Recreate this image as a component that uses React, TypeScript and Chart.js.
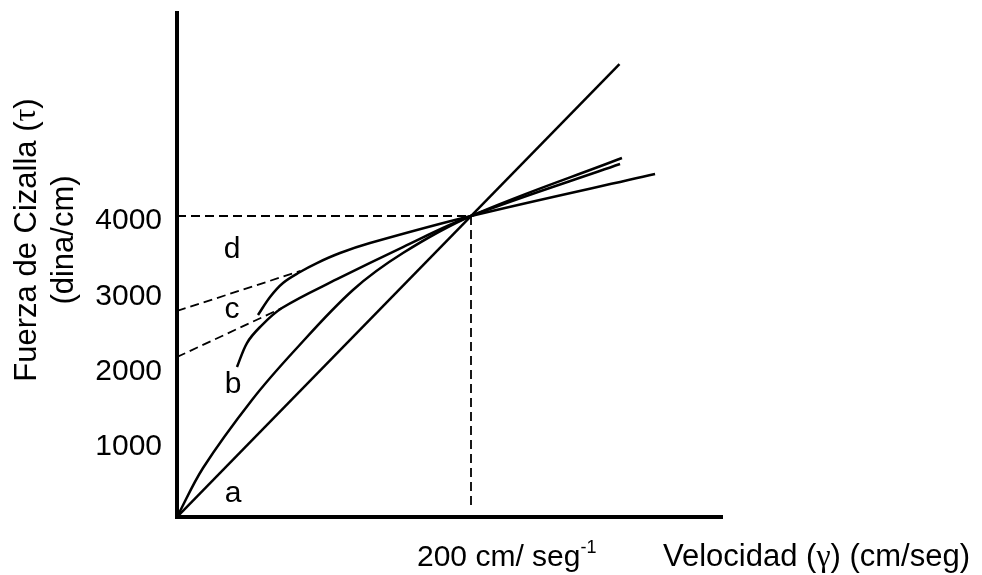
import { useEffect, useRef } from "react";
import { Chart, registerables } from "chart.js";

Chart.register(...registerables);

// ---- data (x: velocidad, y: fuerza de cizalla) ----
const X_MAX = 370.75;
const Y_MAX = 6698;
const Y_TICKS = [1000, 2000, 3000, 4000];
const X_MARK = 200;
const Y_MARK = 4000;

const lineA_x = [0, 301];
const lineA_y = [0, 6020];

const curveOrigin_x = [0, 17.7, 51.0, 80.3, 119.7, 153.7, 200, 302.7];
const curveOrigin_y = [0, 651, 1555, 2219, 3017, 3508, 4000, 4771];

const curveLow_x = [40.8, 47.6, 56.5, 71.4, 108.8, 153.7, 200, 301.4];
const curveLow_y = [1993, 2312, 2525, 2777, 3160, 3588, 4000, 4691];

const curveHigh_x = [55.1, 63.3, 72.1, 83.7, 95.2, 110.9, 131.3, 200, 325.2];
const curveHigh_y = [2684, 2924, 3110, 3256, 3375, 3508, 3641, 4000, 4558];

const dashLow_x = [0, 71.4];
const dashLow_y = [2126, 2777];
const dashHigh_x = [0, 84];
const dashHigh_y = [2738, 3270];

const refH_x = [0, X_MARK];
const refH_y = [Y_MARK, Y_MARK];
const refV_x = [X_MARK, X_MARK];
const refV_y = [Y_MARK, 130];

const LETTERS = ["d", "c", "b", "a"];
const LETTER_X = [37.4, 37.4, 38.1, 38.1];
const LETTER_Y = [3442, 2644, 1648, 199];

const FONT = "'Liberation Sans', Arial, Helvetica, sans-serif";
const SERIF = "'Liberation Serif', 'Times New Roman', serif";

const pts = (xs: number[], ys: number[]) => xs.map((x, i) => ({ x, y: ys[i] }));

type Run = { text: string; font: string; dy?: number };

function runsWidth(ctx: CanvasRenderingContext2D, runs: Run[]) {
  let w = 0;
  for (const r of runs) {
    ctx.font = r.font;
    w += ctx.measureText(r.text).width;
  }
  return w;
}
function drawRuns(ctx: CanvasRenderingContext2D, runs: Run[], x: number, y: number) {
  let cx = x;
  for (const r of runs) {
    ctx.font = r.font;
    ctx.fillText(r.text, cx, y + (r.dy || 0));
    cx += ctx.measureText(r.text).width;
  }
}

const textPlugin = {
  id: "texts",
  afterDraw(chart: any) {
    const ctx: CanvasRenderingContext2D = chart.ctx;
    const xs = chart.scales.x;
    const ys = chart.scales.y;
    ctx.save();
    ctx.fillStyle = "#000";
    ctx.textAlign = "left";
    ctx.textBaseline = "alphabetic";
    const f30 = `30px ${FONT}`;
    const f31 = `31px ${FONT}`;
    const s31 = `32px ${SERIF}`;

    // curve letters
    LETTERS.forEach((l, i) => {
      ctx.font = f30;
      ctx.textAlign = "center";
      ctx.fillText(l, xs.getPixelForValue(LETTER_X[i]), ys.getPixelForValue(LETTER_Y[i]));
    });
    ctx.textAlign = "left";

    // x mark label
    const base = 566;
    const x200 = xs.getPixelForValue(X_MARK);
    const runs200: Run[] = [
      { text: "200 cm/ seg", font: f30 },
      { text: "-1", font: `18px ${FONT}`, dy: -13 },
    ];
    drawRuns(ctx, runs200, x200 - 54, base);

    // x axis title
    const runsX: Run[] = [
      { text: "Velocidad (", font: f31 },
      { text: "γ", font: s31 },
      { text: ") (cm/seg)", font: f31 },
    ];
    drawRuns(ctx, runsX, 663, base);

    // y axis title (rotated, two lines)
    const runsY1: Run[] = [
      { text: "Fuerza de Cizalla (", font: f31 },
      { text: "τ", font: s31 },
      { text: ")", font: f31 },
    ];
    const runsY2: Run[] = [{ text: "(dina/cm)", font: f31 }];
    ctx.textBaseline = "middle";
    [
      [runsY1, 27],
      [runsY2, 64],
    ].forEach(([runs, cx]: any) => {
      ctx.save();
      ctx.translate(cx, 240);
      ctx.rotate(-Math.PI / 2);
      const w = runsWidth(ctx, runs);
      drawRuns(ctx, runs, -w / 2, 0);
      ctx.restore();
    });
    ctx.restore();
  },
};

export default function App() {
  const ref = useRef<HTMLCanvasElement>(null);
  useEffect(() => {
    const solid = (data: any[], t: number) => ({
      data,
      borderColor: "#000",
      borderWidth: 2.5,
      pointRadius: 0,
      fill: false,
      tension: t,
    });
    const dashed = (data: any[]) => ({
      data,
      borderColor: "#000",
      borderWidth: 1.8,
      borderDash: [9, 5],
      pointRadius: 0,
      fill: false,
      tension: 0,
    });
    const chart = new Chart(ref.current!, {
      type: "line",
      data: {
        datasets: [
          dashed(pts(refH_x, refH_y)),
          dashed(pts(refV_x, refV_y)),
          dashed(pts(dashLow_x, dashLow_y)),
          dashed(pts(dashHigh_x, dashHigh_y)),
          solid(pts(lineA_x, lineA_y), 0),
          solid(pts(curveOrigin_x, curveOrigin_y), 0.35),
          solid(pts(curveLow_x, curveLow_y), 0.35),
          solid(pts(curveHigh_x, curveHigh_y), 0.35),
        ] as any,
      },
      options: {
        animation: false,
        responsive: false,
        devicePixelRatio: 1,
        layout: { padding: { top: 13, right: 260, left: 0, bottom: 0 } },
        plugins: { legend: { display: false }, tooltip: { enabled: false } },
        scales: {
          x: {
            type: "linear",
            min: 0,
            max: X_MAX,
            grid: { display: false, drawTicks: false },
            border: { display: true, color: "#000", width: 4 },
            ticks: { display: false },
            afterFit: (s: any) => {
              s.height = 58;
              s.paddingLeft = 0;
              s.paddingRight = 0;
            },
          },
          y: {
            type: "linear",
            min: 0,
            max: Y_MAX,
            grid: { display: false, drawTicks: false },
            border: { display: true, color: "#000", width: 4 },
            afterBuildTicks: (s: any) => {
              s.ticks = Y_TICKS.map((v) => ({ value: v }));
            },
            ticks: {
              color: "#000",
              padding: 15,
              labelOffset: 5,
              font: { family: FONT, size: 30 },
              callback: (v: any) => String(v),
            },
            afterFit: (s: any) => {
              s.width = 177;
              s.paddingTop = 0;
              s.paddingBottom = 0;
            },
          },
        },
      } as any,
      plugins: [textPlugin],
    });
    return () => chart.destroy();
  }, []);
  return (
    <div style={{ position: "fixed", left: 0, top: 0, width: 982, height: 575, background: "#fff" }}>
      <canvas ref={ref} width={982} height={575} style={{ width: 982, height: 575, display: "block" }} />
    </div>
  );
}
